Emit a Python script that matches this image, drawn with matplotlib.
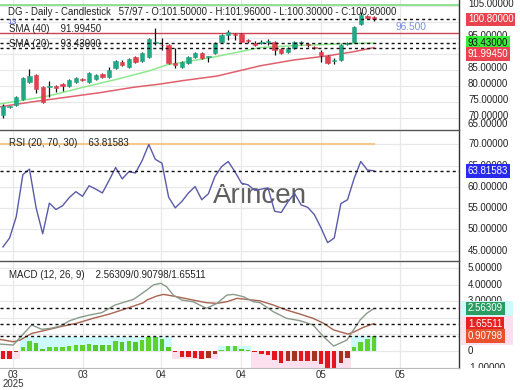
import matplotlib
matplotlib.use('Agg')
import matplotlib.pyplot as plt
from matplotlib.patches import Rectangle

plt.rcParams['font.family'] = ['Liberation Sans', 'DejaVu Sans']

# ---------------- data ----------------
opens = [70.9, 73.4, 74.05, 75.9, 81.25, 83.4, 79.7, 79.7, 80.0, 80.5,
         80.0, 81.25, 82.2, 81.25, 82.2, 83.75, 82.8, 85.6, 87.5, 85.9,
         89.1, 87.8, 89.1, 93.4, 92.9, 92.8, 87.2, 85.9, 87.2, 89.1,
         90.3, 89.0, 90.3, 93.75, 95.9, 96.25, 96.25, 94.1, 93.4, 93.5,
         93.75, 93.75, 91.6, 90.6, 91.9, 93.4, 92.9, 92.2, 90.6, 89.4,
         87.8, 88.1, 93.1, 93.75, 99.4, 101.9, 101.5]
highs = [74.4, 73.8, 76.9, 82.8, 85.3, 83.75, 80.0, 81.6, 80.2, 80.8,
         82.2, 82.8, 82.5, 84.4, 83.75, 84.1, 85.9, 88.1, 88.1, 88.75,
         89.4, 90.6, 95.0, 98.1, 95.0, 93.1, 91.9, 87.8, 89.4, 90.6,
         90.6, 89.4, 93.75, 96.25, 97.5, 96.6, 96.6, 94.7, 94.0, 94.4,
         94.7, 94.1, 91.9, 92.2, 94.1, 94.1, 93.4, 92.5, 91.25, 89.7,
         88.75, 93.1, 93.75, 98.75, 103.1, 102.2, 101.96]
lows = [70.0, 73.1, 73.75, 75.6, 80.9, 77.8, 74.7, 76.6, 78.2, 78.5,
        79.7, 80.9, 81.6, 80.9, 81.9, 82.5, 82.5, 85.3, 86.25, 85.6,
        87.2, 87.5, 88.75, 92.8, 91.25, 86.9, 85.6, 85.6, 86.9, 88.75,
        88.4, 87.5, 90.0, 93.4, 94.4, 94.4, 93.4, 93.4, 92.5, 93.1,
        92.8, 89.7, 90.0, 90.3, 91.6, 92.8, 92.2, 91.6, 87.5, 86.9,
        86.9, 87.8, 92.8, 93.4, 99.1, 100.9, 100.3]
closes = [73.75, 73.6, 76.6, 82.5, 83.1, 79.1, 75.0, 80.0, 79.3, 80.0,
          81.9, 82.5, 81.9, 84.1, 83.4, 82.8, 85.0, 87.8, 86.6, 88.4,
          87.5, 90.3, 94.7, 93.5, 92.7, 87.2, 86.6, 87.5, 89.1, 90.3,
          88.75, 89.1, 93.4, 95.9, 96.9, 96.0, 93.75, 94.0, 92.8, 93.6,
          93.9, 91.25, 90.3, 91.9, 93.75, 93.5, 92.8, 91.9, 89.7, 87.2,
          87.9, 92.8, 93.4, 98.4, 102.2, 101.25, 100.8]

sma20_x = [-0.45, 4.6, 7.1, 12.1, 17.2, 22.2, 24.7, 27.2, 31.7, 34.8, 38.8, 43.8, 51.4, 56]
sma20_v = [74.4, 76.1, 77.0, 79.6, 82.1, 84.8, 86.6, 87.4, 89.0, 90.3, 92.0, 92.6, 93.2, 93.43]
sma40_x = [-0.45, 4.6, 9.6, 14.6, 19.7, 23.7, 27.2, 32.3, 38.8, 43.8, 48.9, 52.9, 56]
sma40_v = [73.5, 75.1, 76.5, 77.9, 79.6, 80.6, 81.7, 83.1, 86.3, 88.1, 89.4, 90.7, 91.9945]

rsi = [45.9, 48.0, 53.0, 62.9, 64.2, 55.1, 49.0, 56.2, 54.7, 55.6,
       57.5, 58.9, 57.8, 60.3, 59.5, 58.6, 61.5, 64.6, 61.9, 63.6,
       63.3, 66.2, 70.0, 66.5, 65.6, 57.6, 55.1, 56.6, 58.6, 60.1,
       57.0, 58.4, 62.5, 64.8, 66.0, 63.6, 60.9, 60.5, 59.2, 59.5,
       59.8, 54.3, 54.0, 56.5, 58.5, 55.8, 55.2, 53.5, 50.4, 46.9,
       48.0, 56.1, 57.0, 62.0, 66.0, 64.0, 63.81583]

macd_x = [-0.45, 1.56, 2.57, 4.33, 5.84, 7.1, 8.6, 10.1, 11.6, 13.1, 14.9, 16.9,
          19.7, 21.7, 22.7, 23.8, 24.7, 25.7, 27.0, 28.7, 30.7, 32.3, 33.8, 34.8,
          36.3, 37.8, 38.8, 40.8, 42.8, 44.8, 46.8, 48.4, 49.9, 51.9, 52.9, 53.9,
          54.9, 56]
macd_v = [0.42, 0.36, 0.82, 1.57, 1.31, 1.36, 1.5, 1.83, 2.03, 2.17, 2.31, 2.77,
          3.11, 3.67, 3.98, 4.08, 3.87, 3.37, 3.07, 2.97, 2.57, 2.87, 3.37, 3.41,
          3.27, 2.97, 2.91, 2.37, 1.97, 1.83, 1.57, 0.86, 0.30, 0.66, 1.27, 1.87,
          2.27, 2.56309]
signal_x = [-0.45, 1.56, 2.57, 4.33, 6.1, 8.6, 11.1, 13.6, 16.1, 18.7, 21.2, 21.7,
            23.2, 24.2, 25.7, 27.0, 28.7, 30.7, 32.3, 33.8, 35.3, 36.8, 38.8, 40.8,
            42.8, 44.8, 46.8, 48.4, 49.9, 52.1, 53.1, 54.4, 56]
signal_v = [0.70, 0.56, 0.66, 1.06, 1.22, 1.46, 1.67, 1.97, 2.23, 2.57, 2.91, 3.07,
            3.31, 3.41, 3.31, 3.21, 3.07, 2.91, 2.87, 2.97, 3.17, 3.11, 3.02, 2.77,
            2.47, 2.23, 1.97, 1.67, 1.27, 1.02, 1.17, 1.43, 1.65511]
hist = [-0.47, -0.47, -0.08, 0.22, 0.6, 0.5, 0.15, 0.25, 0.25, 0.25,
        0.33, 0.38, 0.38, 0.42, 0.38, 0.35, 0.35, 0.58, 0.55, 0.58,
        0.52, 0.64, 0.85, 0.85, 0.7, 0.27, -0.05, -0.38, -0.38, -0.4,
        -0.45, -0.4, -0.2, 0.05, 0.3, 0.3, 0.15, 0.05, -0.05, -0.2,
        -0.25, -0.55, -0.7, -0.62, -0.57, -0.57, -0.6, -0.57, -0.75, -1.0,
        -1.05, -0.7, -0.4, 0.25, 0.55, 0.75, 0.90798]

tick_pos = [1.5, 12.1, 23.9, 35.9, 48.0, 59.9]
tick_labels = ['03', '03', '04', '04', '05', '05']
year_label = '2025'

last_close = 100.8
sma20_last = 93.43
sma40_last = 91.9945
hline_level = 96.5
top_level = 105.2
rsi_last = 63.81583
macd_last, hist_last, signal_last = 2.56309, 0.90798, 1.65511

# ---------------- layout ----------------
W, H = 520, 390
fig = plt.figure(figsize=(W / 100, H / 100), dpi=100)


def rect(x0, y0, x1, y1):
    return [x0 / W, 1 - y1 / H, (x1 - x0) / W, (y1 - y0) / H]


def fpos(x, y):
    return x / W, 1 - y / H


XL = (-0.45, 68.83)
MAIN_YL = (66.56, 106.875)
RSI_YL = (42.82, 73.41)
MACD_YL = (-1.02, 5.42)

ax_m = fig.add_axes(rect(0, 0, 459, 129))
ax_r = fig.add_axes(rect(0, 130, 459, 260))
ax_d = fig.add_axes(rect(0, 261, 459, 368))
lab_m = fig.add_axes(rect(459, 0, 520, 129))
lab_r = fig.add_axes(rect(459, 130, 520, 260))
lab_d = fig.add_axes(rect(459, 261, 520, 368))

GRID = '#e8e8e8'
for ax, yl in ((ax_m, MAIN_YL), (ax_r, RSI_YL), (ax_d, MACD_YL)):
    ax.set_xlim(*XL)
    ax.set_ylim(*yl)
    ax.set_xticks([])
    ax.set_yticks([])
    for s in ax.spines.values():
        s.set_visible(False)
    ax.spines['right'].set_visible(True)
    ax.spines['right'].set_color('#333333')
    ax.spines['right'].set_linewidth(1.0)
    for t in tick_pos:
        ax.axvline(t, color=GRID, lw=0.9, zorder=0)

for ax in (ax_r, ax_d):
    ax.spines['top'].set_visible(True)
    ax.spines['top'].set_color('#555555')
    ax.spines['top'].set_linewidth(1.0)
ax_d.spines['bottom'].set_visible(True)
ax_d.spines['bottom'].set_color('#bbbbbb')
ax_d.spines['bottom'].set_linewidth(0.8)

for lab, yl in ((lab_m, MAIN_YL), (lab_r, RSI_YL), (lab_d, MACD_YL)):
    lab.set_xlim(0, 61)
    lab.set_ylim(*yl)
    lab.axis('off')

DASH = (0, (2.2, 2.2))
FS = 7.0
TXT = '#222222'

# ---------------- main panel ----------------
for v in range(70, 106, 5):
    ax_m.axhline(v, color=GRID, lw=0.9, zorder=0)

ax_m.axhline(top_level, color='#7ddc7d', lw=1.2, zorder=2)
ax_m.axhline(hline_level, color='#cc4455', lw=1.0, zorder=2)
ax_m.plot(sma40_x, sma40_v, color='#e0606e', lw=1.1, zorder=2)
ax_m.plot(sma20_x, sma20_v, color='#8ee88e', lw=1.1, zorder=2)

GREEN_C = '#22a884'
RED_C = '#e2404f'
idx = list(range(len(opens)))
for i in idx:
    o, h, l, c = opens[i], highs[i], lows[i], closes[i]
    col = GREEN_C if c >= o else RED_C
    ax_m.vlines(i, l, h, color='#111111', lw=0.9, zorder=3)
    bottom = min(o, c)
    height = max(abs(c - o), 0.22)
    ax_m.bar(i, height, bottom=bottom, width=0.66, color=col,
             edgecolor=col, lw=0.4, zorder=4)

for lvl in (last_close, sma20_last, sma40_last):
    ax_m.axhline(lvl, color='#111111', lw=1.0, ls=DASH, zorder=6)

ax_m.text(59.2, hline_level + 1.9, '96.500', color='#7b8fdc', fontsize=FS + 0.3,
          ha='left', va='center', zorder=5)

# main labels
fig.text(*fpos(8, 12), 'DG - Daily - Candlestick   57/97 - O:101.50000 - H:101.96000 - L:100.30000 - C:100.80000',
         fontsize=6.9, color=TXT, va='center', ha='left', zorder=1)
fig.text(*fpos(9, 29), 'SMA (40)    91.99450', fontsize=FS, color=TXT, va='center', ha='left', zorder=1)
fig.text(*fpos(9, 44), 'SMA (20)    93.43000', fontsize=FS, color=TXT, va='center', ha='left', zorder=1)
fig.text(*fpos(12, 23), '13', fontsize=FS - 1, color='#5566cc', va='center', ha='center', zorder=1)

for v in (105, 100, 95, 90, 85, 80, 75, 70):
    lab_m.text(9, v + 0.6, f'{v:.5f}', fontsize=FS, color=TXT, va='center', ha='left', clip_on=True)
lab_m.text(9, 68.1, f'{65:.5f}', fontsize=FS, color=TXT, va='center', ha='left', clip_on=True)


def boxlabel(ax, y, s, fc, tc='white'):
    ax.text(9, y, s, fontsize=FS, color=tc, va='center', ha='left', clip_on=True,
            bbox=dict(boxstyle='square,pad=0.18', fc=fc, ec='none'), zorder=5)


boxlabel(lab_m, last_close, f'{last_close:.5f}', '#e8434f')
boxlabel(lab_m, sma20_last, f'{sma20_last:.5f}', '#3aee3a', '#111111')
boxlabel(lab_m, 90.0, f'{sma40_last:.5f}', '#e8434f')

# ---------------- RSI panel ----------------
for v in range(45, 75, 5):
    ax_r.axhline(v, color=GRID, lw=0.9, zorder=0)
ax_r.plot([XL[0], 56], [70, 70], color='#f6c98a', lw=1.5, zorder=2)
ax_r.axhline(rsi_last, color='#111111', lw=1.0, ls=DASH, zorder=4)
fig.text(*fpos(213, 203), 'Arincen', fontsize=20, color='#5e5e5e', ha='left', va='baseline', zorder=0.5)
ax_r.set_zorder(2)
ax_r.patch.set_alpha(0)
ax_r.plot(idx, rsi, color='#5a5aaa', lw=1.0, zorder=3)
fig.text(*fpos(9, 143), 'RSI (20, 70, 30)    63.81583', fontsize=FS, color=TXT, va='center', ha='left')

for v in (75, 70, 65, 60, 55, 50, 45):
    lab_r.text(9, v, f'{v:.5f}', fontsize=FS, color=TXT, va='center', ha='left', clip_on=True)
lab_r.text(9, 41.7, f'{40:.5f}', fontsize=FS, color=TXT, va='center', ha='left', clip_on=True)
boxlabel(lab_r, rsi_last, f'{rsi_last:.5f}', '#2a2aee')

# ---------------- MACD panel ----------------
for v in range(-1, 6):
    ax_d.axhline(v, color=GRID, lw=0.9, zorder=0)

# shaded boxes behind each run of same-sign histogram bars
runs = []
start = 0
for i in range(1, len(hist) + 1):
    if i == len(hist) or (hist[i] >= 0) != (hist[start] >= 0):
        runs.append((start, i - 1))
        start = i
for a, b in runs:
    seg = hist[a:b + 1]
    if hist[a] >= 0:
        ext = max(seg)
        ax_d.add_patch(Rectangle((a - 0.5, 0), b - a + 1, ext, fc='#cdfafa', ec='none', zorder=1))
    else:
        ext = min(seg)
        ax_d.add_patch(Rectangle((a - 0.5, ext), b - a + 1, -ext, fc='#fde0ee', ec='none', zorder=1))

cols = []
for i, v in enumerate(hist):
    prev = hist[i - 1] if i > 0 else v
    if v >= 0:
        cols.append('#5fd32b' if v >= prev else '#56c62b')
    else:
        cols.append('#e3161c' if v <= prev else '#a5321d')
ax_d.bar(idx, hist, width=0.68, color=cols, zorder=2)

ax_d.plot(signal_x, signal_v, color='#a8634f', lw=1.0, zorder=3)
ax_d.plot(macd_x, macd_v, color='#8a9a8a', lw=1.0, zorder=3)
for lvl in (macd_last, signal_last, hist_last):
    ax_d.axhline(lvl, color='#111111', lw=1.0, ls=DASH, zorder=4)

fig.text(*fpos(9, 275), 'MACD (12, 26, 9)    2.56309/0.90798/1.65511', fontsize=FS, color=TXT,
         va='center', ha='left')

for v in (5, 4, 3, 2, 1, -1):
    lab_d.text(9, v, f'{v:.5f}', fontsize=FS, color=TXT, va='center', ha='left', clip_on=True)
lab_d.text(9, 0, '0', fontsize=FS, color=TXT, va='center', ha='left', clip_on=True)
lab_d.add_patch(Rectangle((2, 2.08), 52, 0.96, fc='#cdfafa', ec='none', zorder=3))
lab_d.add_patch(Rectangle((2, 0.38), 52, 1.7, fc='#fde0ee', ec='none', zorder=3))
boxlabel(lab_d, macd_last, f'{macd_last:.5f}', '#2a9d62')
boxlabel(lab_d, signal_last, f'{signal_last:.5f}', '#e52222')
boxlabel(lab_d, hist_last, f'{hist_last:.5f}', '#e8502e')

# ---------------- x labels ----------------
for t, s in zip(tick_pos, tick_labels):
    x = 3 + t * 6.625
    fig.text(*fpos(x, 375), s, fontsize=FS, color='#333333', ha='center', va='center')
fig.text(*fpos(3 + tick_pos[0] * 6.625, 384), year_label, fontsize=FS, color='#333333', ha='center', va='center')

fig.savefig('out.png', dpi=100)
